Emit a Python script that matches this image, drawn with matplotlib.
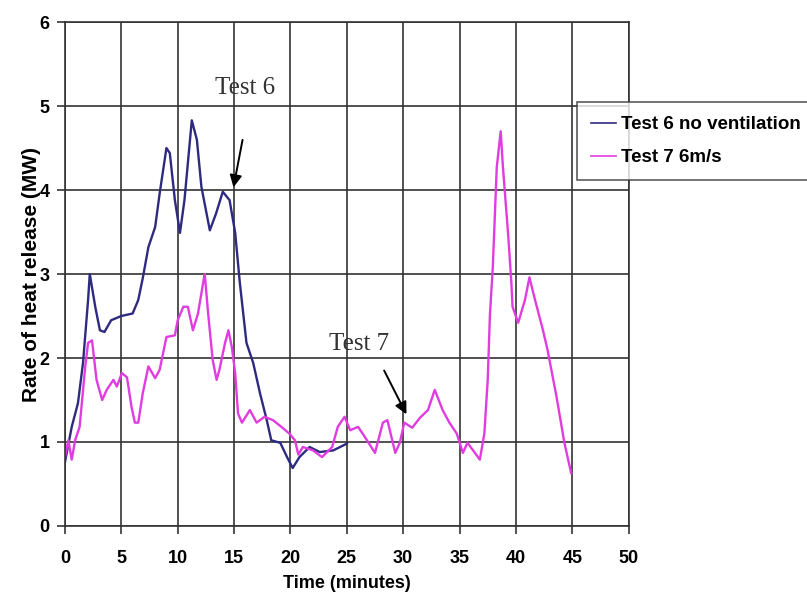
import matplotlib
matplotlib.use("Agg")
import matplotlib.pyplot as plt
import numpy as np

# Test 6, no ventilation (time in minutes, HRR in MW)
t6 = [0.0, 0.6, 1.15, 1.6, 2.05, 2.2, 2.7, 3.1, 3.5, 4.1, 5.0, 6.0, 6.5, 6.9,
      7.4, 8.0, 8.4, 9.0, 9.3, 9.75, 10.2, 10.6, 11.25, 11.7, 12.1, 12.85,
      13.4, 14.0, 14.6, 15.1, 15.5, 16.1, 16.7, 17.3, 17.9, 18.3, 19.1, 19.7,
      20.2, 20.8, 21.7, 22.6, 23.8, 25.0]
hrr6 = [0.76, 1.18, 1.46, 1.94, 2.69, 3.0, 2.6, 2.33, 2.31, 2.45, 2.5, 2.53,
        2.69, 2.95, 3.32, 3.56, 3.96, 4.5, 4.44, 3.88, 3.49, 3.88, 4.83, 4.6,
        4.04, 3.52, 3.72, 3.98, 3.88, 3.49, 2.91, 2.18, 1.94, 1.58, 1.26, 1.02,
        0.99, 0.82, 0.69, 0.82, 0.94, 0.88, 0.9, 0.98]

# Test 7, 6 m/s ventilation
t7 = [0.0, 0.3, 0.6, 0.9, 1.3, 1.8, 2.05, 2.4, 2.8, 3.3, 3.7, 4.3, 4.6, 5.05,
      5.5, 5.9, 6.2, 6.5, 6.9, 7.4, 8.0, 8.4, 9.0, 9.75, 10.0, 10.5, 10.9,
      11.35, 11.8, 12.0, 12.3, 12.4, 12.7, 13.1, 13.45, 13.7, 14.2, 14.5,
      14.8, 15.1, 15.35, 15.7, 16.4, 17.0, 17.7, 18.45, 19.2, 19.9, 20.4,
      20.7, 21.1, 22.0, 22.8, 23.7, 24.2, 24.8, 25.3, 26.0, 26.6, 27.5, 28.2,
      28.6, 29.3, 29.7, 30.1, 30.8, 31.5, 32.2, 32.8, 33.5, 34.1, 34.75,
      35.3, 35.7, 36.2, 36.8, 37.2, 37.5, 37.7, 37.95, 38.3, 38.65, 38.85,
      39.3, 39.6, 39.7, 40.2, 40.8, 41.2, 41.7, 42.4, 42.8, 43.6, 44.3, 44.9]
hrr7 = [0.82, 1.02, 0.79, 1.02, 1.18, 1.9, 2.18, 2.21, 1.74, 1.5, 1.62, 1.74,
        1.66, 1.82, 1.77, 1.42, 1.23, 1.23, 1.58, 1.9, 1.76, 1.86, 2.25, 2.27,
        2.45, 2.61, 2.61, 2.33, 2.53, 2.69, 2.93, 3.0, 2.53, 1.98, 1.74, 1.86,
        2.18, 2.33, 2.13, 1.82, 1.34, 1.23, 1.38, 1.23, 1.3, 1.26, 1.18, 1.1,
        1.02, 0.85, 0.94, 0.9, 0.82, 0.94, 1.18, 1.3, 1.14, 1.18, 1.06, 0.87,
        1.23, 1.26, 0.87, 0.99, 1.23, 1.17, 1.29, 1.38, 1.62, 1.38, 1.23, 1.1,
        0.87, 0.99, 0.9, 0.79, 1.1, 1.74, 2.53, 3.08, 4.27, 4.7, 4.27, 3.49,
        2.89, 2.61, 2.42, 2.69, 2.96, 2.69, 2.33, 2.1, 1.54, 0.99, 0.63]

xticks = np.arange(0, 51, 5)
yticks = np.arange(0, 7, 1)

fig = plt.figure(figsize=(8.07, 5.97), dpi=100)
ax = fig.add_axes([0.0805, 0.119, 0.6985, 0.844])

ax.plot(t6, hrr6, color="#2E2A80", lw=1.7, label="Test 6 no ventilation")
ax.plot(t7, hrr7, color="#E03CE0", lw=1.7, label="Test 7 6m/s")

ax.set_xlim(0, 50)
ax.set_ylim(0, 6)
ax.set_xticks(xticks)
ax.set_yticks(yticks)
ax.grid(True, color="#333333", lw=1.2)
for s in ax.spines.values():
    s.set_color("#333333")
    s.set_linewidth(1.2)
ax.tick_params(direction="out", length=6, color="#333333", width=1.2,
               labelsize=13)
ax.tick_params(axis="x", pad=11)
ax.tick_params(axis="y", pad=5)
for lab in ax.get_xticklabels() + ax.get_yticklabels():
    lab.set_fontweight("bold")
    lab.set_family("Liberation Sans")

ax.set_xlabel("Time (minutes)", fontsize=13, fontweight="bold",
              family="Liberation Sans", labelpad=6)
ax.set_ylabel("Rate of heat release (MW)", fontsize=15, fontweight="bold",
              family="Liberation Sans", labelpad=-1)

ax.annotate("", xy=(14.9, 4.0), xytext=(15.8, 4.63),
            arrowprops=dict(arrowstyle="-|>", color="black", lw=1.4,
                            mutation_scale=18))
ax.text(16.0, 5.22, "Test 6", family="Liberation Serif", fontsize=18,
        ha="center", va="center", color="#333333")
ax.annotate("", xy=(30.4, 1.30), xytext=(28.2, 1.88),
            arrowprops=dict(arrowstyle="-|>", color="black", lw=1.4,
                            mutation_scale=18))
ax.text(26.1, 2.17, "Test 7", family="Liberation Serif", fontsize=18,
        ha="center", va="center", color="#333333")

leg = fig.legend(loc="upper left", bbox_to_anchor=(0.715, 0.829),
                 borderaxespad=0.0,
                 prop=dict(family="Liberation Sans", weight="bold", size=13.5),
                 frameon=True, fancybox=False, handlelength=1.35,
                 handletextpad=0.27, borderpad=0.75, labelspacing=0.85)
leg.get_frame().set_edgecolor("#333333")
leg.get_frame().set_linewidth(1.2)
for line in leg.get_lines():
    line.set_linewidth(1.2)

fig.savefig("out.png", dpi=100)
